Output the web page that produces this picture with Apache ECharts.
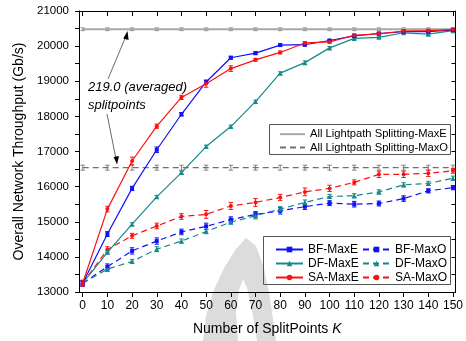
<!DOCTYPE html>
<html><head><meta charset="utf-8">
<script src="https://cdn.jsdelivr.net/npm/echarts@6/dist/echarts.min.js"></script>
<style>html,body{margin:0;padding:0;background:#fff}#c{width:466px;height:341px}</style>
</head><body><div id="c"></div>
<script>
// ---- data ----
const xValues = [0,10,20,30,40,50,60,70,80,90,100,110,120,130,140,150];
const xTicks = [0,10,20,30,40,50,60,70,80,90,100,110,120,130,140,150];
const yLabels = [13000,14000,15000,16000,17000,18000,19000,20000,21000];
const yTicks = [13000,13500,14000,14500,15000,15500,16000,16500,17000,17500,18000,18500,19000,19500,20000,20500,21000];

const allMaxE = [20480,20480,20480,20480,20480,20480,20480,20480,20480,20480,20480,20480,20480,20480,20480,20480];
const allMaxO = [16540,16540,16540,16540,16540,16540,16540,16540,16540,16540,16540,16540,16540,16540,16540,16540];
const bfMaxE = [13250,14650,15950,17050,18060,18980,19670,19800,20030,20040,20160,20290,20360,20410,20410,20460];
const dfMaxE = [13250,14130,14930,15710,16400,17140,17710,18420,19230,19530,19950,20220,20250,20380,20340,20440];
const saMaxE = [13250,15360,16730,17720,18540,18930,19360,19610,19820,20090,20120,20310,20350,20430,20440,20470];
const bfMaxO = [13250,13720,14170,14450,14710,14870,15060,15210,15310,15430,15530,15500,15520,15660,15880,15970];
const dfMaxO = [13250,13650,13870,14220,14450,14720,14990,15170,15360,15550,15720,15740,15850,16050,16090,16240];
const saMaxO = [13250,14210,14600,14880,15150,15210,15450,15550,15690,15850,15950,16120,16350,16350,16380,16450];

const errAllMaxE = [40,40,40,40,40,40,40,40,40,40,40,40,40,40,40,40];
const errAllMaxO = [70,70,70,70,70,70,70,70,70,70,70,70,70,70,70,70];
const errBfMaxE = [80,70,60,80,50,50,40,40,30,40,30,30,30,30,30,30];
const errDfMaxE = [60,50,40,40,40,40,40,40,40,50,40,30,30,30,30,30];
const errSaMaxE = [80,80,110,60,60,100,80,40,40,40,40,40,40,40,40,40];
const errBfMaxO = [80,80,90,90,80,90,80,80,90,80,70,80,70,80,60,60];
const errDfMaxO = [60,60,60,70,60,60,60,90,70,70,60,60,60,60,60,60];
const errSaMaxO = [80,80,70,80,80,110,100,110,90,110,90,70,90,90,90,70];

const BLUE = '#1010ff', TEAL = '#148a8a', RED = '#ff1010';

function lineSeries(name, ys, color, symbol, size, dashed, z, width) {
  return {
    type: 'line', name: name, data: xValues.map((x, i) => [x, ys[i]]),
    symbol: symbol, symbolSize: size, z: z, showSymbol: symbol !== 'none',
    itemStyle: { color: color },
    lineStyle: { color: color, width: width || 1.2, type: dashed ? [6, 4] : 'solid' },
    emphasis: { disabled: true }, animation: false
  };
}
function errSeries(ys, errs, color, z) {
  return {
    type: 'custom', z: z, silent: true, animation: false,
    data: xValues.map((x, i) => [x, ys[i] - errs[i], ys[i] + errs[i]]),
    encode: { x: 0, y: [1, 2] },
    renderItem: function (params, api) {
      const lo = api.coord([api.value(0), api.value(1)]);
      const hi = api.coord([api.value(0), api.value(2)]);
      const w = 2.2;
      const st = { stroke: color, lineWidth: 1 };
      return { type: 'group', children: [
        { type: 'line', shape: { x1: lo[0], y1: lo[1], x2: hi[0], y2: hi[1] }, style: st },
        { type: 'line', shape: { x1: lo[0] - w, y1: lo[1], x2: lo[0] + w, y2: lo[1] }, style: st },
        { type: 'line', shape: { x1: hi[0] - w, y1: hi[1], x2: hi[0] + w, y2: hi[1] }, style: st }
      ]};
    }
  };
}

const FONT = 'Liberation Sans, Arial, sans-serif';
const chart = echarts.init(document.getElementById('c'), null, { renderer: 'canvas' });

const legendText = { fontFamily: FONT, fontSize: 12, color: '#000', lineHeight: 14 };
const plain = function (v) { return String(v); };
const option = {
  animation: false,
  backgroundColor: '#fff',
  grid: { left: 79, right: 6, top: 11, bottom: 48, containLabel: false },
  xAxis: [{
    type: 'value', min: -1.5, max: 151, position: 'bottom',
    axisLine: { show: true, onZero: false, lineStyle: { color: '#000', width: 1 } },
    axisTick: { show: true, inside: false, length: 5, customValues: xTicks, lineStyle: { color: '#000' } },
    axisLabel: { customValues: xTicks, formatter: plain, color: '#000', fontFamily: FONT, fontSize: 12, margin: 8 },
    splitLine: { show: false },
    name: 'Number of SplitPoints {i|K}', nameLocation: 'middle', nameGap: 30,
    nameTextStyle: { fontFamily: FONT, fontSize: 14, color: '#000',
      rich: { i: { fontFamily: FONT, fontSize: 14, fontStyle: 'italic', color: '#000' } } }
  }, {
    type: 'value', min: -1.5, max: 151, position: 'top',
    axisLine: { show: true, onZero: false, lineStyle: { color: '#000', width: 1 } },
    axisTick: { show: true, inside: true, length: 5, customValues: xTicks, lineStyle: { color: '#000' } },
    axisLabel: { show: false }, splitLine: { show: false }
  }],
  yAxis: [{
    type: 'value', min: 13000, max: 21000, position: 'left',
    axisLine: { show: true, onZero: false, lineStyle: { color: '#000', width: 1 } },
    axisTick: { show: true, inside: false, length: 4, customValues: yTicks, lineStyle: { color: '#000' } },
    axisLabel: { customValues: yLabels, formatter: plain, color: '#000', fontFamily: FONT, fontSize: 11.5, margin: 10 },
    splitLine: { show: false },
    name: 'Overall Network Throughput (Gb/s)', nameLocation: 'middle', nameGap: 43,
    nameTextStyle: { fontFamily: FONT, fontSize: 14, color: '#000' }
  }, {
    type: 'value', min: 13000, max: 21000, position: 'right',
    axisLine: { show: true, onZero: false, lineStyle: { color: '#000', width: 1 } },
    axisTick: { show: true, inside: true, length: 4, customValues: yTicks, lineStyle: { color: '#000' } },
    axisLabel: { show: false }, splitLine: { show: false }
  }],
  legend: [{
    orient: 'vertical', left: 279, top: 127.5, padding: 0, itemGap: 0, itemWidth: 25, itemHeight: 7,
    textStyle: Object.assign({}, legendText, { fontSize: 11.2, lineHeight: 13.3 }), selectedMode: false,
    data: [
      { name: 'All Lightpath Splitting-MaxE', itemStyle: { opacity: 0 } },
      { name: 'All Lightpath Splitting-MaxO', itemStyle: { opacity: 0 } }
    ]
  }, {
    orient: 'vertical', left: 275, top: 242.5, padding: 0, itemGap: 0, itemWidth: 27, itemHeight: 7,
    textStyle: legendText, selectedMode: false,
    data: ['BF-MaxE', 'DF-MaxE', 'SA-MaxE']
  }, {
    orient: 'vertical', left: 362, top: 242.5, padding: 0, itemGap: 0, itemWidth: 27, itemHeight: 7,
    textStyle: legendText, selectedMode: false,
    data: ['BF-MaxO', 'DF-MaxO', 'SA-MaxO']
  }],
  graphic: [
    // watermark arch
    { type: 'polygon', z: -5, silent: true,
      shape: { points: [[203,341],[206,316],[213,292],[224,268],[236,249],[246,238],[256,246],[264,268],[270,298],[276,341],
                        [257,341],[252,310],[247,288],[243,279],[239,290],[236,312],[238,341]] },
      style: { fill: '#dcdcdc' } },
    { type: 'rect', z: 1, silent: true, shape: { x: 269.5, y: 124.5, width: 181, height: 30 },
      style: { fill: 'none', stroke: '#555', lineWidth: 1 } },
    { type: 'rect', z: 1, silent: true, shape: { x: 263.5, y: 236.5, width: 187, height: 48 },
      style: { fill: 'none', stroke: '#555', lineWidth: 1 } },
    { type: 'text', z: 20, left: 88, top: 81, silent: true,
      style: { text: '219.0 (averaged)', font: 'italic 13px ' + FONT, fill: '#000' } },
    { type: 'text', z: 20, left: 88, top: 99, silent: true,
      style: { text: 'splitpoints', font: 'italic 13px ' + FONT, fill: '#000' } },
    { type: 'line', z: 20, silent: true, shape: { x1: 108, y1: 79, x2: 126, y2: 36 }, style: { stroke: '#444', lineWidth: 0.8 } },
    { type: 'polygon', z: 20, silent: true, shape: { points: [[127.5,31],[123.3,38.5],[128.6,40]] }, style: { fill: '#000' } },
    { type: 'line', z: 20, silent: true, shape: { x1: 107, y1: 114, x2: 116, y2: 159 }, style: { stroke: '#444', lineWidth: 0.8 } },
    { type: 'polygon', z: 20, silent: true, shape: { points: [[117,164.5],[113.6,157],[119,156]] }, style: { fill: '#000' } }
  ],
  series: [
    lineSeries('All Lightpath Splitting-MaxE', allMaxE, '#a8a8a8', 'none', 0, false, 2, 2),
    lineSeries('All Lightpath Splitting-MaxO', allMaxO, '#707070', 'none', 0, true, 2, 1.2),
    errSeries(allMaxE, errAllMaxE, '#909090', 2),
    errSeries(allMaxO, errAllMaxO, '#808080', 2),
    lineSeries('BF-MaxO', bfMaxO, BLUE, 'rect', 4, true, 3),
    lineSeries('DF-MaxO', dfMaxO, TEAL, 'triangle', 5, true, 3),
    lineSeries('SA-MaxO', saMaxO, RED, 'circle', 4, true, 3),
    errSeries(bfMaxO, errBfMaxO, BLUE, 3),
    errSeries(dfMaxO, errDfMaxO, TEAL, 3),
    errSeries(saMaxO, errSaMaxO, RED, 3),
    lineSeries('DF-MaxE', dfMaxE, TEAL, 'triangle', 5, false, 4),
    lineSeries('BF-MaxE', bfMaxE, BLUE, 'rect', 4, false, 4),
    lineSeries('SA-MaxE', saMaxE, RED, 'circle', 4, false, 4),
    errSeries(dfMaxE, errDfMaxE, TEAL, 4),
    errSeries(bfMaxE, errBfMaxE, BLUE, 4),
    errSeries(saMaxE, errSaMaxE, RED, 4)
  ]
};
chart.setOption(option);
</script>
</body></html>
